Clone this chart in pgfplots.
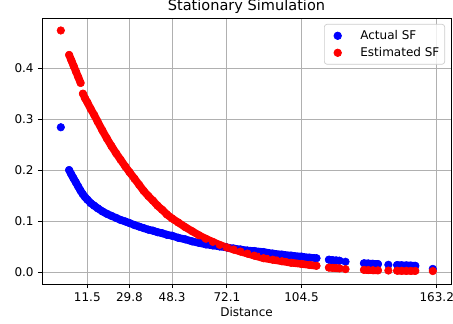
\documentclass[border=0pt]{standalone}
\usepackage{fontspec}
\setmainfont{DejaVu Sans}
\usepackage{pgfplots}
\usepackage{pgfplotstable}
\pgfplotsset{compat=1.18}
\definecolor{pblue}{RGB}{0,0,255}
\definecolor{pred}{RGB}{255,0,0}
\pgfplotstableread{
x y
0 0.284
nan nan
3.6 0.200
4.5 0.192
5.5 0.184
6.5 0.176
7.5 0.168
8.5 0.160
9.5 0.153
10.5 0.147
11.5 0.142
13 0.135
14.5 0.130
16 0.125
18 0.119
20 0.114
22 0.110
24 0.106
26 0.102
28 0.099
29.8 0.096
32 0.092
34 0.089
36 0.086
38 0.083
40 0.081
42 0.078
44 0.076
46 0.073
48.3 0.071
51 0.067
54 0.064
57 0.060
60 0.057
63 0.054
66 0.052
69 0.050
72.1 0.048
75 0.046
78 0.044
81 0.042
84 0.041
88 0.039
92 0.036
96 0.034
100 0.032
104.5 0.030
108 0.028
111 0.027
nan nan
116.4 0.024
118 0.023
119.5 0.0225
121 0.022
nan nan
123.6 0.020
nan nan
131.6 0.017
133.5 0.0165
135.5 0.016
137.7 0.0155
nan nan
142.2 0.014
nan nan
146 0.0135
148 0.013
150 0.0128
152 0.0125
153.9 0.012
nan nan
161.5 0.006
}\actual
\pgfplotstableread{
x y
0 0.474
nan nan
3.6 0.426
4.6 0.415
5.6 0.404
6.6 0.393
7.6 0.382
8.6 0.371
nan nan
9.6 0.350
10.5 0.341
11.5 0.333
13 0.320
14.5 0.308
16 0.295
18 0.278
20 0.262
22 0.247
24 0.233
26 0.220
28 0.207
29.8 0.196
32 0.183
34 0.171
36 0.159
38 0.149
40 0.140
42 0.130
44 0.122
46 0.113
48.3 0.105
51 0.097
54 0.088
57 0.080
60 0.072
63 0.065
66 0.059
69 0.053
72.1 0.048
75 0.044
78 0.040
81 0.036
84 0.032
88 0.027
92 0.024
96 0.021
100 0.018
104.5 0.0157
108 0.0137
111 0.012
nan nan
116.4 0.0085
118 0.0080
119.5 0.0075
121 0.0070
nan nan
123.6 0.0055
nan nan
131.6 0.0040
133.5 0.0037
135.5 0.0034
137.7 0.0031
nan nan
142.2 0.0027
nan nan
146 0.0024
148 0.0023
150 0.0022
152 0.0021
153.9 0.0020
nan nan
161.5 0.0017
}\estimated
\begin{document}
\begin{tikzpicture}
\begin{axis}[
  name=ax,
  scale only axis,
  width=306.75pt, height=199.5pt,
  xmin=-8.17, xmax=169.4, ymin=-0.0237, ymax=0.4985,
  xtick={11.5,29.8,48.3,72.1,104.5,163.2},
  xticklabels={11.5,29.8,48.3,72.1,104.5,163.2},
  ytick={0,0.1,0.2,0.3,0.4},
  yticklabels={0.0,0.1,0.2,0.3,0.4},
  /pgf/number format/assume math mode=true,
  grid=major,
  grid style={line width=0.6pt, color=black!31},
  axis line style={line width=0.6pt},
  tick align=outside,
  tick pos=left,
  major tick length=3.1pt,
  tick style={line width=0.6pt, black},
  ticklabel style={font=\fontsize{9pt}{10.8pt}\selectfont, inner sep=3pt},
  title={Stationary Simulation},
  title style={font=\fontsize{10.9pt}{13pt}\selectfont, at={(0.5,1)}, anchor=base, inner sep=0pt, yshift=-0.75pt},
  xlabel={Distance},
  xlabel style={font=\fontsize{9pt}{10.8pt}\selectfont, at={(axis description cs:0.5,0)}, anchor=base, inner sep=0pt, yshift=-24.4pt},
  unbounded coords=jump,
  legend style={at={(1,1)}, anchor=north east, xshift=-4.5pt, yshift=-4.5pt,
    draw=black!20, line width=0.5pt, rounded corners=2pt, fill=white, fill opacity=0.8, text opacity=1,
    font=\fontsize{9pt}{10.8pt}\selectfont, inner xsep=4pt, inner ysep=4.1pt,
    nodes={inner sep=0pt, text height=7pt, text depth=2pt}, row sep=3.75pt, column sep=0pt},
  legend cell align=left,
  legend image code/.code={\path (0pt,0pt) (22.5pt,0pt); \draw[#1, fill opacity=1, draw opacity=1] plot coordinates {(5.75pt,0pt)};},
]
\addplot[pblue, line width=5.7pt, line cap=round, line join=round, forget plot] table {\actual};
\addplot[pblue, only marks, mark=*, mark size=2.85pt] table {\actual};
\addlegendentry{Actual SF}
\addplot[pred, line width=5.7pt, line cap=round, line join=round, forget plot] table {\estimated};
\addplot[pred, only marks, mark=*, mark size=2.85pt] table {\estimated};
\addlegendentry{Estimated SF}
\end{axis}
\pgfresetboundingbox
\useasboundingbox ([shift={(-31.5pt,-30pt)}]ax.south west) rectangle ([shift={(1.5pt,13.5pt)}]ax.north east);
\end{tikzpicture}
\end{document}
